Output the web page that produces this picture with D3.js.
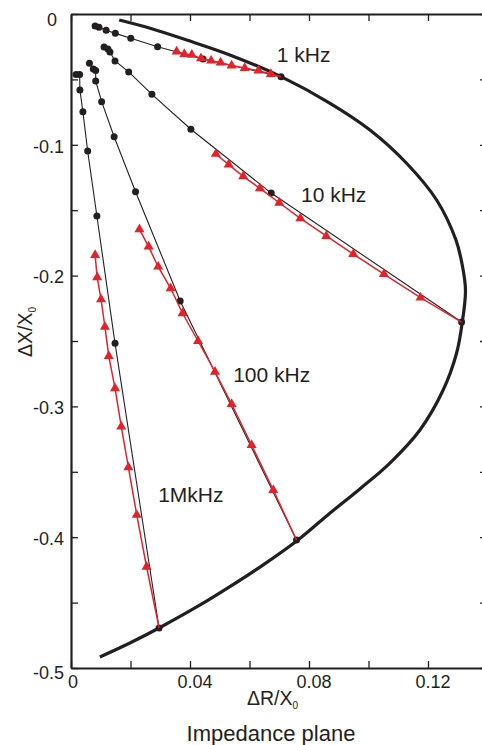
<!DOCTYPE html>
<html><head><meta charset="utf-8">
<script src="https://cdn.jsdelivr.net/npm/d3@7"></script>
<style>html,body{margin:0;padding:0;background:#fff;} svg{display:block;}</style>
</head><body><svg id="chart" width="482" height="745"></svg>
<script>
// ---------- data ----------
const xTickValues = [0, 0.02, 0.04, 0.06, 0.08, 0.10, 0.12];
const xLabelValues = [0, 0.04, 0.08, 0.12];
const yTickValues = [0, -0.05, -0.1, -0.15, -0.2, -0.25, -0.3, -0.35, -0.4, -0.45, -0.5];
const yLabelValues = [0, -0.1, -0.2, -0.3, -0.4, -0.5];

// thick boundary curve (ΔR/X0, ΔX/X0)
const boundaryCurve = [
  [0.0162, -0.0046], [0.0266, -0.0109], [0.0389, -0.0199], [0.0534, -0.0313],
  [0.0706, -0.0479], [0.0871, -0.0683], [0.1005, -0.0887], [0.1128, -0.1141],
  [0.1229, -0.1422], [0.1294, -0.1728], [0.1314, -0.1906], [0.1326, -0.2110],
  [0.1315, -0.2360], [0.1296, -0.2594], [0.1251, -0.2875], [0.1173, -0.3180],
  [0.1072, -0.3433], [0.0971, -0.3631], [0.0871, -0.3815], [0.0763, -0.4021],
  [0.0645, -0.4213], [0.0534, -0.4378], [0.0434, -0.4518], [0.0296, -0.4694],
  [0.0198, -0.4809], [0.0097, -0.4916]
];

// black series (circles)
const black1k = [
  [0.0081, -0.0092], [0.0094, -0.0102], [0.0118, -0.0125], [0.0149, -0.0148],
  [0.0201, -0.0186], [0.0291, -0.0250], [0.0444, -0.0344], [0.0706, -0.0479]
];
const black10k = [
  [0.0111, -0.0252], [0.0124, -0.0268], [0.0131, -0.0291], [0.0148, -0.0359],
  [0.0194, -0.0443], [0.0272, -0.0614], [0.0403, -0.0881], [0.0673, -0.1369],
  [0.1313, -0.2355]
];
const black100k = [
  [0.0062, -0.0377], [0.0075, -0.0420], [0.0083, -0.0432], [0.0083, -0.0512],
  [0.0103, -0.0670], [0.0145, -0.0938], [0.0217, -0.1359], [0.0367, -0.2194],
  [0.0758, -0.4021]
];
const black1M = [
  [0.0017, -0.0463], [0.0029, -0.0463], [0.0030, -0.0581], [0.0040, -0.0747],
  [0.0056, -0.1047], [0.0087, -0.1544], [0.0148, -0.2518], [0.0296, -0.4694]
];

// red series (triangles; last point is the end on the boundary curve)
const red1k = [
  [0.0355, -0.0288], [0.0381, -0.0306], [0.0406, -0.0313], [0.0437, -0.0339],
  [0.0471, -0.0357], [0.0503, -0.0372], [0.0540, -0.0394], [0.0584, -0.0413],
  [0.0630, -0.0433], [0.0672, -0.0459], [0.0706, -0.0479]
];
const red10k = [
  [0.0487, -0.1070], [0.0530, -0.1152], [0.0579, -0.1241], [0.0635, -0.1333],
  [0.0700, -0.1443], [0.0771, -0.1562], [0.0858, -0.1697], [0.0949, -0.1835],
  [0.1052, -0.1988], [0.1175, -0.2169], [0.1313, -0.2355]
];
const red100k = [
  [0.0230, -0.1646], [0.0261, -0.1779], [0.0293, -0.1932], [0.0335, -0.2097],
  [0.0375, -0.2288], [0.0427, -0.2500], [0.0484, -0.2735], [0.0540, -0.2982],
  [0.0607, -0.3295], [0.0680, -0.3639], [0.0758, -0.4021]
];
const red1M = [
  [0.0081, -0.1843], [0.0088, -0.2013], [0.0101, -0.2181], [0.0114, -0.2391],
  [0.0127, -0.2615], [0.0148, -0.2862], [0.0169, -0.3155], [0.0193, -0.3466],
  [0.0221, -0.3830], [0.0254, -0.4226], [0.0296, -0.4694]
];

const blackSeries = [black1k, black10k, black100k, black1M];
const redSeries = [red1k, red10k, red100k, red1M];

// frequency labels (text, anchor in data units)
const freqLabels = [
  { text: "1 kHz", x: 0.0692, y: -0.0365 },
  { text: "10 kHz", x: 0.0773, y: -0.1440 },
  { text: "100 kHz", x: 0.0545, y: -0.2811 },
  { text: "1MkHz", x: 0.0293, y: -0.3729 }
];

// ---------- drawing ----------
const FONT = "'Liberation Sans', Arial, Helvetica, sans-serif";
const INK = "#231f20";
const RED = "#e3222a";

const svg = d3.select("#chart");
const x = d3.scaleLinear().domain([0, 0.1395]).range([71, 486]);
const y = d3.scaleLinear().domain([0, -0.5]).range([14, 668]);

const line = d3.line().x(d => x(d[0])).y(d => y(d[1]));
const smooth = d3.line().x(d => x(d[0])).y(d => y(d[1])).curve(d3.curveCatmullRom.alpha(0.5));

// axes
const fmt = d => (Math.abs(d) < 1e-12 ? "0" : String(+d.toFixed(2)));
const isIn = (arr, d) => arr.some(v => Math.abs(v - d) < 1e-9);
const axisBottom = d3.axisBottom(x).tickValues(xTickValues).tickSizeInner(-7).tickSizeOuter(0)
  .tickFormat(d => isIn(xLabelValues, d) ? fmt(d) : "");
const axisTop = d3.axisTop(x).tickValues(xTickValues).tickSizeInner(-7).tickSizeOuter(0).tickFormat("");
const axisLeft = d3.axisLeft(y).tickValues(yTickValues).tickSizeInner(-7).tickSizeOuter(0)
  .tickFormat(d => isIn(yLabelValues, d) ? fmt(d) : "");
const axisRight = d3.axisRight(y).tickValues(yTickValues).tickSizeInner(-6).tickSizeOuter(0).tickFormat("");

function styleAxis(g) {
  g.select(".domain").attr("stroke", INK).attr("stroke-width", 2.2);
  g.selectAll(".tick line").attr("stroke", INK).attr("stroke-width", 1.3);
  g.selectAll(".tick text").attr("fill", INK).style("font-family", FONT).style("font-size", "18px");
}

const gB = svg.append("g").attr("transform", `translate(0,${y(-0.5)})`).call(axisBottom).call(styleAxis);
gB.selectAll(".tick text").attr("dy", "0.71em").attr("y", 7).attr("dx", d => Math.abs(d) < 1e-12 ? 1.5 : 4.5);
svg.append("g").attr("transform", `translate(0,${y(0)})`).call(axisTop).call(styleAxis);
const gL = svg.append("g").attr("transform", `translate(${x(0)},0)`).call(axisLeft).call(styleAxis);
gL.selectAll(".tick text").attr("x", -7)
  .attr("dy", d => Math.abs(d) < 1e-12 ? "0.65em" : (Math.abs(d + 0.5) < 1e-9 ? "0.6em" : "0.4em"))
  .attr("dx", d => Math.abs(d) < 1e-12 ? -7 : 0);
svg.append("g").attr("transform", `translate(${x(0.1395)},0)`).call(axisRight).call(styleAxis);

// boundary curve
svg.append("path").datum(boundaryCurve).attr("d", smooth)
  .attr("fill", "none").attr("stroke", INK).attr("stroke-width", 3.2).attr("stroke-linecap", "butt");

// black series
blackSeries.forEach(s => {
  svg.append("path").datum(s).attr("d", line).attr("fill", "none").attr("stroke", INK).attr("stroke-width", 1.1);
  svg.append("g").selectAll("circle").data(s).join("circle")
    .attr("cx", d => x(d[0])).attr("cy", d => y(d[1])).attr("r", 3.5).attr("fill", INK);
});

// red series
const tri = d3.symbol().type(d3.symbolTriangle).size(44);
redSeries.forEach(s => {
  svg.append("path").datum(s).attr("d", line).attr("fill", "none").attr("stroke", RED).attr("stroke-width", 1.5);
  svg.append("g").selectAll("path").data(s.slice(0, -1)).join("path")
    .attr("d", tri).attr("transform", d => `translate(${x(d[0])},${y(d[1])})`).attr("fill", RED);
});

// frequency labels
svg.append("g").selectAll("text").data(freqLabels).join("text")
  .attr("x", d => x(d.x)).attr("y", d => y(d.y)).text(d => d.text)
  .attr("fill", INK).style("font-family", FONT).style("font-size", "21px");

// axis titles
const xt = svg.append("text").attr("x", 247).attr("y", 705).attr("fill", INK)
  .style("font-family", FONT).style("font-size", "19.5px");
xt.append("tspan").text("ΔR/X");
xt.append("tspan").text("0").style("font-size", "10px").attr("dy", 4);

const yt = svg.append("text").attr("transform", "translate(31.5,332) rotate(-90)").attr("text-anchor", "middle")
  .attr("fill", INK).style("font-family", FONT).style("font-size", "19.5px");
yt.append("tspan").text("ΔX/X");
yt.append("tspan").text("0").style("font-size", "10px").attr("dy", 4);

svg.append("text").attr("x", 271).attr("y", 741).attr("text-anchor", "middle").attr("fill", INK)
  .style("font-family", FONT).style("font-size", "22px").text("Impedance plane");
</script>
</body></html>
